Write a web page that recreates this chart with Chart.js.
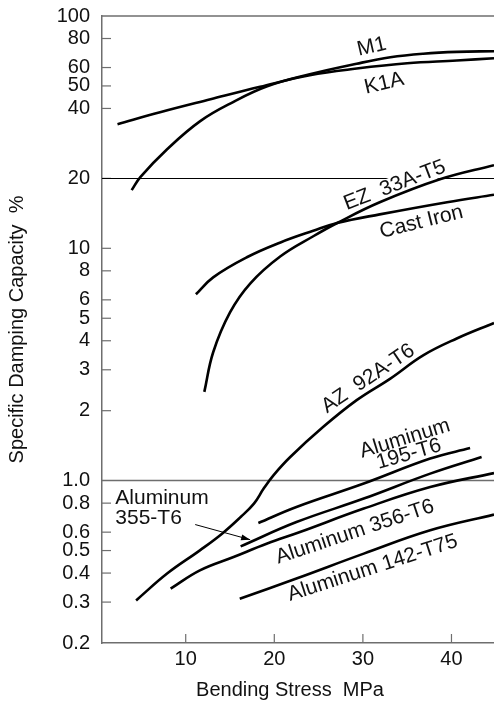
<!DOCTYPE html>
<html><head><meta charset="utf-8">
<script src="https://cdn.jsdelivr.net/npm/chart.js@4"></script>
<style>html,body{margin:0;padding:0;background:#fff}canvas{display:block}</style>
</head><body>
<canvas id="c" width="494" height="704"></canvas>
<script>
// ---- data ----
const xTicks = [10, 20, 30, 40];
const yTicks = [0.2, 0.3, 0.4, 0.5, 0.6, 0.8, 1, 2, 3, 4, 5, 6, 8, 10, 20, 40, 50, 60, 80, 100];
const yTickLabels = ["0.2","0.3","0.4","0.5","0.6","0.8","1.0","2","3","4","5","6","8","10","20","40","50","60","80","100"];
const xTitle = "Bending Stress  MPa";
const yTitle = "Specific Damping Capacity  %";

const m1X = [3.9, 4.9, 7.9, 11.6, 15.4, 19.2, 24.0, 29.3, 33.1, 36.8, 40.6, 44.8];
const m1Y = [17.8, 20.3, 26.7, 35.2, 42.7, 49.8, 56.1, 62.3, 66.4, 68.8, 70.1, 70.5];
const k1aX = [2.3, 7.1, 12.8, 18.4, 24.0, 29.3, 35.0, 40.6, 44.8];
const k1aY = [34.2, 38.5, 43.8, 49.6, 55.6, 59.4, 62.6, 64.3, 65.8];
const ezX = [12.1, 13.1, 15.0, 17.3, 20.7, 24.4, 27.1, 31.9, 38.7, 44.8];
const ezY = [2.41, 3.57, 5.30, 7.07, 9.24, 11.27, 12.85, 15.78, 19.82, 22.8];
const castX = [11.15, 13.1, 16.9, 20.7, 24.4, 27.1, 31.9, 39.5, 44.8];
const castY = [6.34, 7.50, 9.15, 10.6, 11.9, 12.85, 14.0, 15.8, 17.0];
const azX = [4.4, 7.9, 11.6, 14.1, 16.2, 17.7, 18.8, 19.9, 21.8, 25.5, 29.3, 33.1, 36.8, 40.6, 44.8];
const azY = [0.305, 0.398, 0.501, 0.591, 0.697, 0.796, 0.924, 1.054, 1.264, 1.70, 2.22, 2.75, 3.46, 4.09, 4.77];
const al195X = [18.2, 22.5, 30.1, 37.6, 42.1];
const al195Y = [0.657, 0.770, 0.971, 1.244, 1.381];
const al355X = [16.2, 22.5, 30.1, 37.6, 43.4];
const al355Y = [0.521, 0.663, 0.837, 1.072, 1.264];
const al356X = [8.3, 11.6, 15.4, 19.2, 22.9, 30.1, 37.6, 44.8];
const al356Y = [0.343, 0.411, 0.469, 0.536, 0.601, 0.758, 0.938, 1.078];
const al142X = [16.1, 22.5, 30.1, 37.6, 44.8];
const al142Y = [0.310, 0.379, 0.485, 0.611, 0.714];

// curve labels (anchor in data units, angle in degrees)
const curveLabels = [
  {text: "M1", x: 31.0, y: 73.6, angle: -13},
  {text: "K1A", x: 32.4, y: 51.2, angle: -13},
  {text: "EZ  33A-T5", x: 33.6, y: 18.67, angle: -21, bg: true},
  {text: "Cast Iron", x: 36.6, y: 12.98, angle: -14},
  {text: "AZ  92A-T6", x: 30.6, y: 2.75, angle: -34},
  {text: "Aluminum", x: 34.75, y: 1.516, angle: -17},
  {text: "195-T6", x: 35.2, y: 1.30, angle: -16},
  {text: "Aluminum", x: 2.05, y: 0.839, angle: 0, align: "left"},
  {text: "355-T6", x: 2.05, y: 0.688, angle: 0, align: "left"},
  {text: "Aluminum 356-T6", x: 29.1, y: 0.601, angle: -18.5},
  {text: "Aluminum 142-T75", x: 31.1, y: 0.420, angle: -18}
];
const arrow355 = {x1: 11.07, y1: 0.647, x2: 17.27, y2: 0.557};

// ---- style ----
const FONT = "'Liberation Sans', Arial, Helvetica, sans-serif";
const AXIS = "#6e6e6e";
const INK = "#111";
const LABEL_FONT = "21px " + FONT;

function pts(xs, ys) { return xs.map((x, i) => ({x: x, y: ys[i]})); }
function ds(name, xs, ys) {
  return {label: name, data: pts(xs, ys), borderColor: "#000", borderWidth: 2.6,
          pointRadius: 0, fill: false, tension: 0.4, borderCapStyle: "butt"};
}

const annot = {
  id: "annot",
  beforeDatasetsDraw(chart) {
    const {ctx, chartArea: a, scales: {x, y}} = chart;
    ctx.save();
    ctx.strokeStyle = AXIS; ctx.lineWidth = 1.5;
    ctx.beginPath(); ctx.moveTo(a.left, y.getPixelForValue(100)); ctx.lineTo(a.right, y.getPixelForValue(100)); ctx.stroke();
    ctx.beginPath(); ctx.moveTo(a.left, y.getPixelForValue(1)); ctx.lineTo(a.right, y.getPixelForValue(1)); ctx.stroke();
    ctx.lineWidth = 1.2;
    yTicks.forEach(v => {
      if (v === 100 || v === 0.2 || v === 1) return;
      const p = y.getPixelForValue(v);
      ctx.beginPath(); ctx.moveTo(a.left, p); ctx.lineTo(a.left + 9, p); ctx.stroke();
    });
    xTicks.forEach(v => {
      const p = x.getPixelForValue(v);
      ctx.beginPath(); ctx.moveTo(p, a.bottom); ctx.lineTo(p, a.bottom - 9); ctx.stroke();
    });
    ctx.strokeStyle = "#000"; ctx.lineWidth = 1;
    const p20 = Math.round(y.getPixelForValue(20)) + 0.5;
    ctx.beginPath(); ctx.moveTo(a.left, p20); ctx.lineTo(a.right, p20); ctx.stroke();
    ctx.font = LABEL_FONT;
    curveLabels.filter(L => L.bg).forEach(L => {
      const px = x.getPixelForValue(L.x), py = y.getPixelForValue(L.y);
      const w = ctx.measureText(L.text).width;
      ctx.save(); ctx.translate(px, py); ctx.rotate(L.angle * Math.PI / 180);
      ctx.fillStyle = "#fff"; ctx.fillRect(-w / 2 - 3, -9, w + 6, 18);
      ctx.restore();
    });
    ctx.restore();
  },
  afterDatasetsDraw(chart) {
    const {ctx, chartArea: a, scales: {x, y}} = chart;
    ctx.save();
    ctx.font = LABEL_FONT;
    ctx.fillStyle = INK;
    ctx.textBaseline = "middle";
    curveLabels.forEach(L => {
      const px = x.getPixelForValue(L.x), py = y.getPixelForValue(L.y);
      ctx.save(); ctx.translate(px, py); ctx.rotate(L.angle * Math.PI / 180);
      ctx.textAlign = L.align || "center";
      ctx.fillText(L.text, 0, 0);
      ctx.restore();
    });
    // x axis title
    ctx.font = "20px " + FONT;
    ctx.textAlign = "center";
    ctx.fillText(xTitle, (a.left + a.right) / 2 - 8, 690);
    // arrow
    const ax1 = x.getPixelForValue(arrow355.x1), ay1 = y.getPixelForValue(arrow355.y1);
    const ax2 = x.getPixelForValue(arrow355.x2), ay2 = y.getPixelForValue(arrow355.y2);
    ctx.strokeStyle = "#000"; ctx.lineWidth = 1;
    ctx.beginPath(); ctx.moveTo(ax1, ay1); ctx.lineTo(ax2, ay2); ctx.stroke();
    const ang = Math.atan2(ay2 - ay1, ax2 - ax1);
    ctx.beginPath();
    ctx.moveTo(ax2, ay2);
    ctx.lineTo(ax2 - 9 * Math.cos(ang) + 3 * Math.sin(ang), ay2 - 9 * Math.sin(ang) - 3 * Math.cos(ang));
    ctx.lineTo(ax2 - 9 * Math.cos(ang) - 3 * Math.sin(ang), ay2 - 9 * Math.sin(ang) + 3 * Math.cos(ang));
    ctx.closePath(); ctx.fillStyle = "#000"; ctx.fill();
    ctx.restore();
  }
};

new Chart(document.getElementById("c"), {
  type: "line",
  data: {
    datasets: [
      ds("M1", m1X, m1Y), ds("K1A", k1aX, k1aY), ds("EZ 33A-T5", ezX, ezY),
      ds("Cast Iron", castX, castY), ds("AZ 92A-T6", azX, azY),
      ds("Aluminum 195-T6", al195X, al195Y), ds("Aluminum 355-T6", al355X, al355Y),
      ds("Aluminum 356-T6", al356X, al356Y), ds("Aluminum 142-T75", al142X, al142Y)
    ]
  },
  options: {
    responsive: false, animation: false, devicePixelRatio: 1,
    layout: {padding: {top: 16, right: 0, left: 0, bottom: 0}, autoPadding: false},
    plugins: {legend: {display: false}, tooltip: {enabled: false}},
    scales: {
      x: {
        type: "linear", min: 0.55, max: 44.8,
        grid: {display: false, drawTicks: false},
        border: {display: true, color: AXIS, width: 1.5},
        afterBuildTicks: s => { s.ticks = xTicks.map(v => ({value: v})); },
        afterFit: s => { s.height = 61; s.paddingLeft = 0; s.paddingRight = 0; },
        ticks: {padding: 4, autoSkip: false, maxRotation: 0, color: INK, font: {family: FONT, size: 20}},
        title: {display: false, text: xTitle}
      },
      y: {
        type: "logarithmic", min: 0.2, max: 100,
        grid: {display: false, drawTicks: false},
        border: {display: true, color: AXIS, width: 1.5},
        afterBuildTicks: s => { s.ticks = yTicks.map(v => ({value: v})); },
        afterFit: s => { s.width = 102; s.paddingTop = 0; s.paddingBottom = 0; },
        ticks: {padding: 12, autoSkip: false, color: INK, font: {family: FONT, size: 20},
                callback: (v, i) => yTickLabels[i]},
        title: {display: true, text: yTitle, color: INK, font: {family: FONT, size: 20}, padding: {top: 5, bottom: 0}}
      }
    }
  },
  plugins: [annot]
});
</script></body></html>
